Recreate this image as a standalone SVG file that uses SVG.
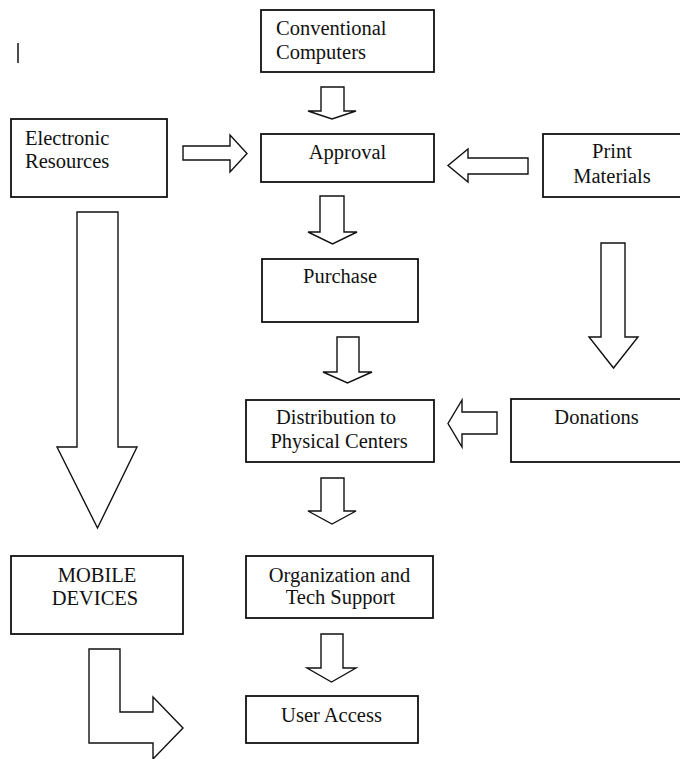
<svg xmlns="http://www.w3.org/2000/svg" width="680" height="759" viewBox="0 0 680 759">
<style>
.box{fill:#fff;stroke:#111;stroke-width:1.8}
.arr{fill:#fff;stroke:#111;stroke-width:1.4;stroke-linejoin:miter}
text{font-family:"Liberation Serif","Times New Roman",serif;font-size:20.5px;fill:#111}
.c{text-anchor:middle}
</style>
<rect width="680" height="759" fill="#fff"/>
<line x1="18" y1="43" x2="18" y2="63" stroke="#111" stroke-width="1.5"/>
<g id="conventional"><rect class="box" x="261" y="10" width="173" height="62"/><text x="276" y="35">Conventional</text><text x="276" y="59">Computers</text></g>
<g id="electronic"><rect class="box" x="11" y="119" width="156" height="78"/><text x="25" y="145">Electronic</text><text x="25" y="168">Resources</text></g>
<g id="approval"><rect class="box" x="261" y="134" width="173" height="48"/><text class="c" x="347.5" y="159">Approval</text></g>
<g id="print"><rect class="box" x="543" y="134" width="150" height="63"/><text class="c" x="612" y="158">Print</text><text class="c" x="612" y="183">Materials</text></g>
<g id="purchase"><rect class="box" x="262" y="259" width="156" height="63"/><text class="c" x="340" y="283">Purchase</text></g>
<g id="distribution"><rect class="box" x="246" y="400" width="188" height="62"/><text class="c" x="336" y="424">Distribution to</text><text class="c" x="339" y="448">Physical Centers</text></g>
<g id="donations"><rect class="box" x="511" y="399" width="180" height="63"/><text class="c" x="596.5" y="424">Donations</text></g>
<g id="mobile"><rect class="box" x="11" y="556" width="172" height="78"/><text class="c" x="97" y="582">MOBILE</text><text class="c" x="95" y="605">DEVICES</text></g>
<g id="organization"><rect class="box" x="246" y="556" width="187" height="62"/><text class="c" x="339.5" y="582">Organization and</text><text class="c" x="340.5" y="604">Tech Support</text></g>
<g id="useraccess"><rect class="box" x="246" y="696" width="172" height="47"/><text class="c" x="331.5" y="722">User Access</text></g>
<g id="connectors">
<path class="arr" d="M321,87 H344 V111 H356 L332,119 L308,111 H321 Z"/>
<path class="arr" d="M183,146 H230 V135 L247,153.5 L230,172 V160 H183 Z"/>
<path class="arr" d="M528,158 H468 V149 L448,165.5 L468,182 V174 H528 Z"/>
<path class="arr" d="M320,196 H344 V232 H357 L332.5,244 L308,232 H320 Z"/>
<path class="arr" d="M337,337 H359 V372 H372 L347.5,383 L323,372 H337 Z"/>
<path class="arr" d="M77,212 H118 V447 H137 L97.5,528 L57,447 H77 Z"/>
<path class="arr" d="M601,243 H625 V337 H638 L613.5,368 L589,337 H601 Z"/>
<path class="arr" d="M497,412 H462 V400 L448,423.5 L462,447 V434 H497 Z"/>
<path class="arr" d="M321,478 H344 V511 H356 L332,524 L308,511 H321 Z"/>
<path class="arr" d="M321,634 H343 V668 H356 L331.5,682 L307,668 H321 Z"/>
<path class="arr" d="M89,649 H120 V712 H153 V697 L183,728 L153,759 V743 H89 Z"/>
</g>
</svg>
